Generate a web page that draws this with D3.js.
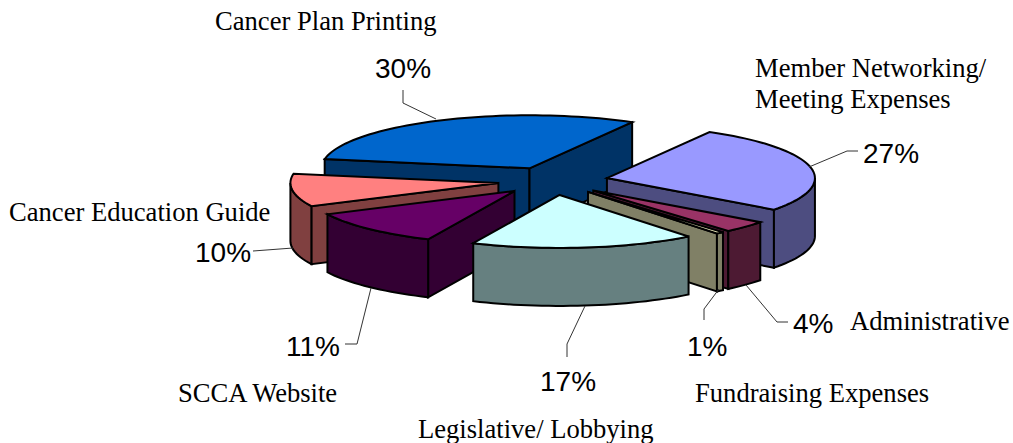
<!DOCTYPE html>
<html><head><meta charset="utf-8">
<script src="https://cdn.jsdelivr.net/npm/d3@7"></script>
<style>html,body{margin:0;background:#fff}svg{display:block}</style></head>
<body><svg id="c" width="1013" height="443"></svg>
<script>
const categories = ["Cancer Plan Printing","Member Networking/ Meeting Expenses","Administrative","Fundraising Expenses","Legislative/ Lobbying","SCCA Website","Cancer Education Guide"];
const values = [30.49,27,3.6,0.6,17.49,11,10];
const colors = ["#0066CC","#9999FF","#993366","#FFFFCC","#CCFFFF","#660066","#FF8080"];

// annotation layout, by category index
const nameLines = [["Cancer Plan Printing"],["Member Networking/","Meeting Expenses"],["Administrative"],["Fundraising Expenses"],["Legislative/ Lobbying"],["SCCA Website"],["Cancer Education Guide"]];
const namePos = [[215,30],[755,77],[850,330],[695,402],[418,438],[178,402],[9,221]];
const pctPos = [[375,78],[863,163],[793,333],[687,356],[540,391],[286,356],[195,262]];
const leaders = [
  [[403,90],[403,103],[436,119]],
  [[858,151],[847,151],[809,167]],
  [[788,322],[777,322],[746,285]],
  [[704,320],[704,309],[719,289]],
  [[567,357],[567,344],[585,306]],
  [[345,344],[357,344],[371,288]],
  [[253,251],[293,248]]
];

const cx=553, cy=181, rx=208, ry=53, depth=58, explode=0.265;
const svg=d3.select("#c");
const toRad=d=>d*Math.PI/180;
const pie=d3.pie().sort(null).startAngle(toRad(-80)).endAngle(toRad(280));
const arcs=pie(values);
const ex=a=>rx*Math.sin(a), ey=a=>-ry*Math.cos(a);
const line=d3.line();

function arcPts(ox,oy,a0,a1,dy){
  const n=Math.max(2,Math.ceil(Math.abs(a1-a0)/toRad(2)));
  return d3.range(n+1).map(i=>{const a=a0+(a1-a0)*i/n;return [ox+ex(a),oy+ey(a)+dy];});
}
const order=arcs.map((d,i)=>i).sort((p,q)=>
  d3.descending(Math.cos((arcs[p].startAngle+arcs[p].endAngle)/2),Math.cos((arcs[q].startAngle+arcs[q].endAngle)/2)));

const faceStyle=s=>s.attr("stroke","#000").attr("stroke-width",2).attr("stroke-linejoin","miter");
order.forEach(i=>{
  const d=arcs[i], mid=(d.startAngle+d.endAngle)/2;
  const ox=cx+explode*ex(mid), oy=cy+explode*ey(mid);
  const c=d3.rgb(colors[i]), side=d3.rgb(c.r/2,c.g/2,c.b/2).formatHex();
  const g=svg.append("g");
  const cut=a=>{
    const p=[ox+ex(a),oy+ey(a)];
    g.append("path").attr("d",line([[ox,oy],p,[p[0],p[1]+depth],[ox,oy+depth]])+"Z").attr("fill",side).call(faceStyle);
  };
  if(Math.sin(d.startAngle)<0) cut(d.startAngle);
  if(Math.sin(d.endAngle)>0) cut(d.endAngle);
  // outer wall: front half of the ellipse only
  for(const k of [0,1,2]){
    const a0=Math.max(d.startAngle,toRad(90+360*(k-1))), a1=Math.min(d.endAngle,toRad(270+360*(k-1)));
    if(a1>a0){
      const top=arcPts(ox,oy,a0,a1,0), bot=arcPts(ox,oy,a1,a0,depth);
      g.append("path").attr("d",line(top.concat(bot))+"Z").attr("fill",side).call(faceStyle);
    }
  }
  g.append("path").attr("d",line([[ox,oy]].concat(arcPts(ox,oy,d.startAngle,d.endAngle,0)))+"Z").attr("fill",colors[i]).call(faceStyle);
});

leaders.forEach(l=>svg.append("path").attr("d",line(l)).attr("fill","none").attr("stroke","#333").attr("stroke-width",1));

categories.forEach((cat,i)=>{
  const t=svg.append("text").attr("font-family","'Liberation Serif'").attr("font-size",26.6).attr("fill","#000");
  nameLines[i].forEach((s,j)=>t.append("tspan").attr("x",namePos[i][0]).attr("y",namePos[i][1]+j*31).text(s));
  svg.append("text").attr("x",pctPos[i][0]).attr("y",pctPos[i][1]).attr("font-family","'Liberation Sans'").attr("font-size",28).attr("fill","#000")
    .text(d3.format(".0f")(values[i])+"%");
});
</script></body></html>
